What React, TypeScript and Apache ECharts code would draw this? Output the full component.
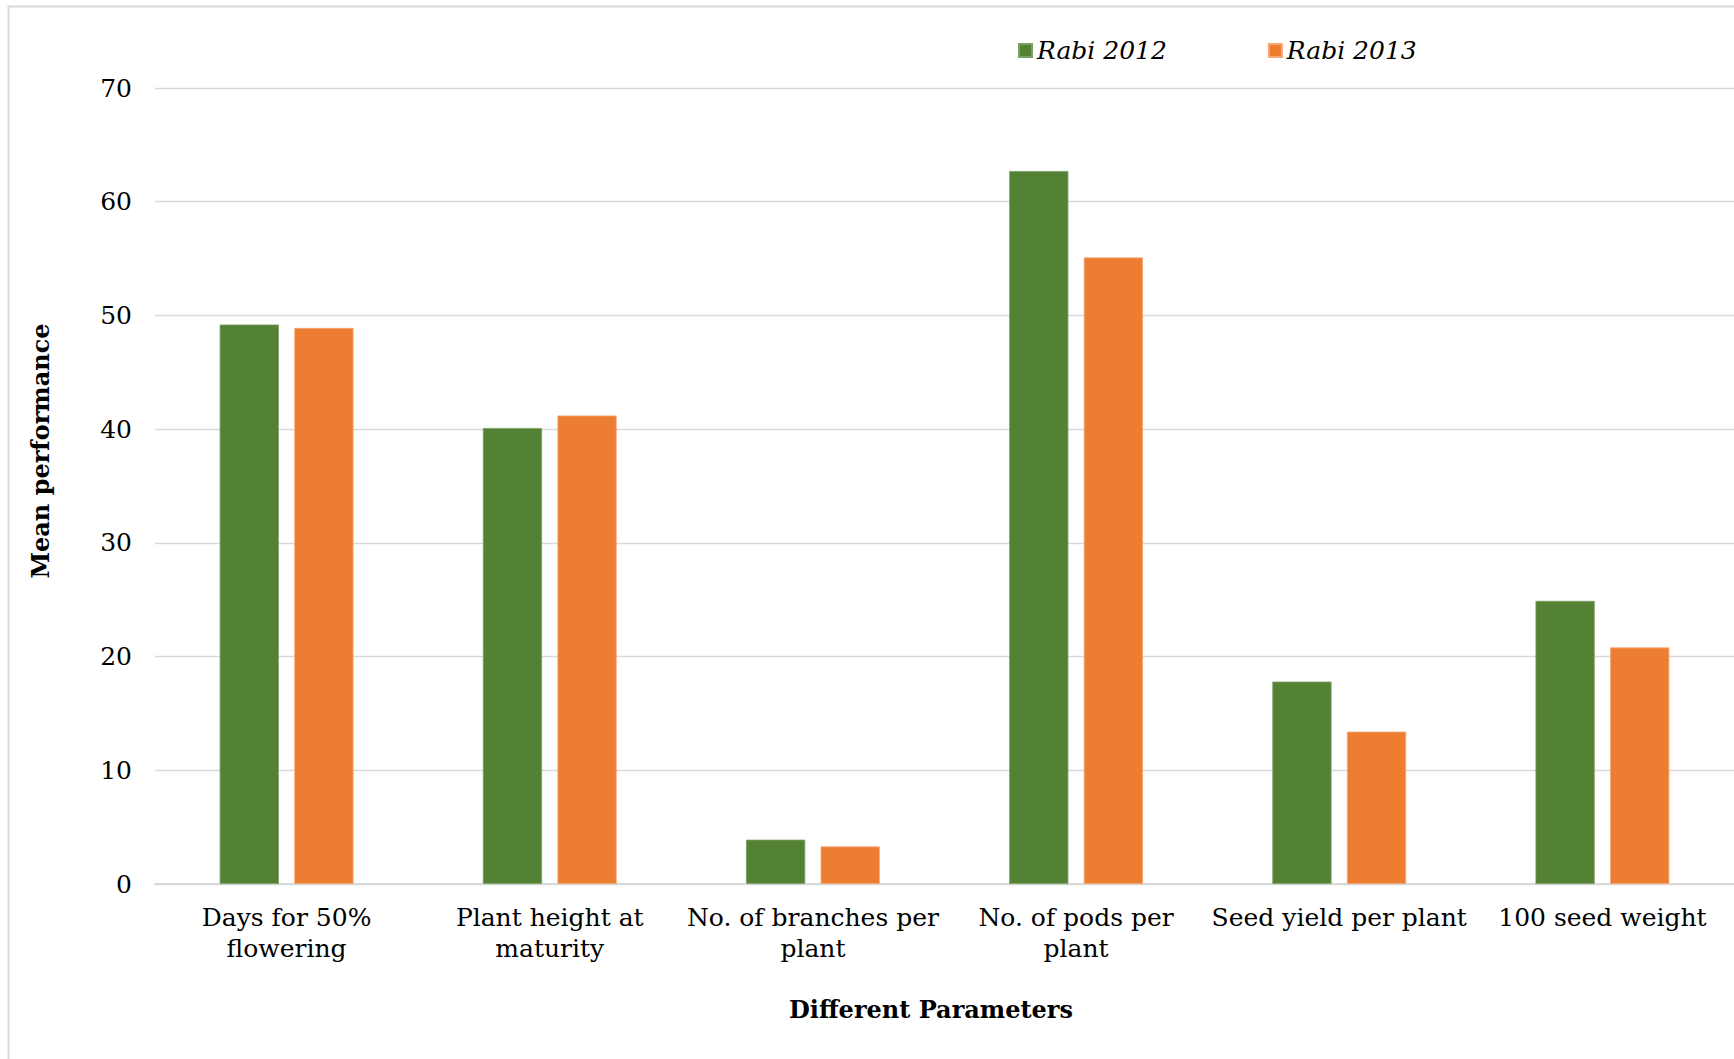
import React, { useEffect, useRef } from "react";
import * as echarts from "echarts";

// Parameters measured in both seasons
const categories = [
  "Days for 50%\nflowering",
  "Plant height at\nmaturity",
  "No. of branches per\nplant",
  "No. of pods per\nplant",
  "Seed yield per plant",
  "100 seed weight",
];

const rabi2012 = [49.2, 40.1, 3.9, 62.7, 17.8, 24.9];
const rabi2013 = [48.9, 41.2, 3.3, 55.1, 13.4, 20.8];

const seriesNames = ["Rabi 2012", "Rabi 2013"];
const seriesColors = ["#548235", "#ED7D31"];

const yMin = 0;
const yMax = 70;
const yStep = 10;

const FONT = "'DejaVu Serif', serif";

export default function App() {
  const ref = useRef<HTMLDivElement>(null);

  useEffect(() => {
    if (!ref.current) return;
    const chart = echarts.init(ref.current, undefined, { renderer: "svg" });
    chart.setOption({
      animation: false,
      backgroundColor: "#ffffff",
      textStyle: { fontFamily: FONT },
      graphic: [
        {
          type: "rect",
          shape: { x: 8.5, y: 6.5, width: 2000, height: 2000 },
          style: { fill: "none", stroke: "#d9d9d9", lineWidth: 2 },
          silent: true,
        },
        {
          type: "text",
          x: 40,
          y: 451,
          rotation: Math.PI / 2,
          style: {
            text: "Mean performance",
            font: `bold 24px ${FONT}`,
            fill: "#000",
            align: "center",
            verticalAlign: "middle",
          },
        },
        {
          type: "text",
          x: 931,
          y: 1009,
          style: {
            text: "Different Parameters",
            font: `bold 24px ${FONT}`,
            fill: "#000",
            align: "center",
            verticalAlign: "middle",
          },
        },
      ],
      legend: {
        left: 1013,
        top: 33,
        icon: "rect",
        itemWidth: 13,
        itemHeight: 13,
        itemGap: 101,
        data: seriesNames,
        textStyle: {
          fontFamily: FONT,
          fontStyle: "italic",
          fontSize: 25,
          color: "#000",
          padding: [0, 0, 0, 0],
        },
      },
      grid: { left: 155, width: 1590, top: 88, bottom: 175, containLabel: false },
      xAxis: {
        type: "category",
        data: categories,
        axisTick: { show: false },
        axisLine: { lineStyle: { color: "#d9d9d9", width: 2 } },
        axisLabel: {
          interval: 0,
          margin: 18,
          fontFamily: FONT,
          fontSize: 25,
          lineHeight: 31,
          color: "#000",
          align: "center",
        },
      },
      yAxis: {
        type: "value",
        min: yMin,
        max: yMax,
        interval: yStep,
        axisLine: { show: false },
        axisTick: { show: false },
        splitLine: { lineStyle: { color: "#d9d9d9", width: 1.4 } },
        axisLabel: {
          margin: 23,
          fontFamily: FONT,
          fontSize: 25,
          color: "#000",
        },
      },
      series: [
        {
          name: seriesNames[0],
          type: "bar",
          data: rabi2012,
          barWidth: "22.5%",
          barGap: "26%",
          itemStyle: { color: seriesColors[0], borderColor: "#7d9e67", borderWidth: 0.8 },
        },
        {
          name: seriesNames[1],
          type: "bar",
          data: rabi2013,
          barWidth: "22.5%",
          barGap: "26%",
          itemStyle: { color: seriesColors[1], borderColor: "#f4a777", borderWidth: 0.8 },
        },
      ],
    });
    return () => chart.dispose();
  }, []);

  return (
    <div
      ref={ref}
      style={{ position: "fixed", left: 0, top: 0, width: 1734, height: 1059, background: "#fff" }}
    />
  );
}
